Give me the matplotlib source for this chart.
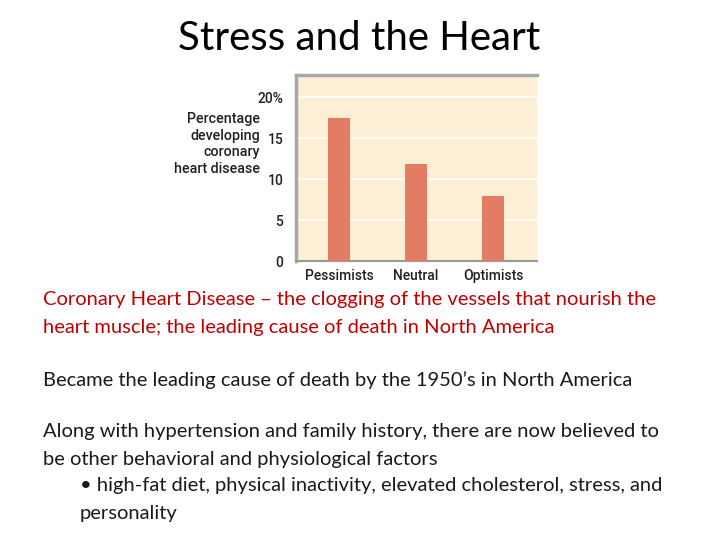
import matplotlib

matplotlib.use("Agg")

import matplotlib.pyplot as plt  # noqa: E402

groups = ["Pessimists", "Neutral", "Optimists"]
percent_chd = [17.4, 11.8, 7.9]
y_ticks = [0, 5, 10, 15, 20]
y_tick_labels = ["0", "5", "10", "15", "20%"]

title = "Stress and the Heart"
red_lines = [
    "Coronary Heart Disease \u2013 the clogging of the vessels that nourish the",
    "heart muscle; the leading cause of death in North America",
]
black_lines = [
    ("Became the leading cause of death by the 1950\u2019s in North America", 43, 380),
    ("Along with hypertension and family history, there are now believed to", 43, 432),
    ("be other behavioral and physiological factors", 43, 459),
    ("\u2022 high-fat diet, physical inactivity, elevated cholesterol, stress, and", 80, 486),
    ("personality", 80, 513),
]

W, H = 720, 540
fig = plt.figure(figsize=(7.2, 5.4), dpi=100)
fig.patch.set_facecolor("white")


def px(x, y):
    return x / W, 1 - y / H


fig.text(*px(359, 38), title, ha="center", va="center", fontsize=29,
         family="Lato", color="black")

for i, line in enumerate(red_lines):
    fig.text(*px(43, 300 + 27 * i), line, ha="left", va="center",
             fontsize=14.5, family="Lato", color="#C00000")

for line, x, y in black_lines:
    fig.text(*px(x, y), line, ha="left", va="center", fontsize=14.5,
             family="Lato", color="#1a1a1a")

# chart
ax = fig.add_axes([296 / W, 1 - 261 / H, 241 / W, 186 / H])
ax.set_facecolor("#FCEFD6")
ax.bar(range(len(groups)), percent_chd, width=0.29, color="#E47C64", zorder=3)
ax.set_xlim(-0.56, 2.57)
ax.set_ylim(0, 22.7)
ax.set_yticks(y_ticks)
ax.set_yticklabels(y_tick_labels)
ax.set_xticks(range(len(groups)))
ax.set_xticklabels(groups)
ax.tick_params(length=0, labelsize=10, colors="#222222", pad=6)
for lab in ax.get_xticklabels() + ax.get_yticklabels():
    lab.set_family("Roboto")
    lab.set_weight("medium")
ax.tick_params(axis="y", pad=9)
ax.grid(axis="y", color="white", linewidth=1.2, zorder=1)
ax.spines["right"].set_visible(False)
ax.spines["top"].set_color("#A8A8A8")
ax.spines["top"].set_linewidth(2.5)
ax.spines["left"].set_color("#A8A8A8")
ax.spines["left"].set_linewidth(2.5)
ax.spines["bottom"].set_color("#9A9A9A")
ax.spines["bottom"].set_linewidth(1.5)

fig.text(*px(260, 144), "Percentage\ndeveloping\ncoronary\nheart disease",
         ha="right", va="center", fontsize=10.3, family="Roboto",
         weight="medium", color="#222222", linespacing=1.25)

fig.savefig("out.png", dpi=100)
